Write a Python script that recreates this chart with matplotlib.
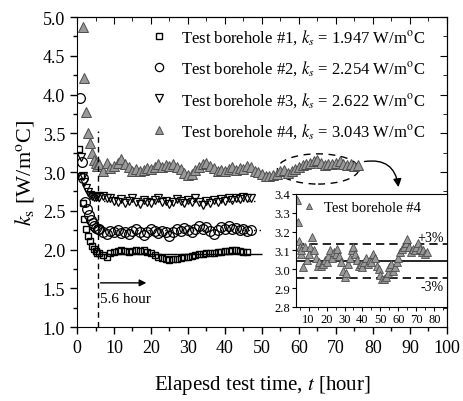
import matplotlib
matplotlib.use('Agg')
import matplotlib.pyplot as plt
from matplotlib.patches import Ellipse
from matplotlib.ticker import MultipleLocator

plt.rcParams['font.family'] = 'Liberation Serif'
plt.rcParams['mathtext.fontset'] = 'stix'

# fitted conductivities of the four boreholes
ks_fit = [1.947, 2.254, 2.622, 3.043]

# borehole #1 (squares)
t1 = [0.5, 1.0, 1.5, 2.0, 2.5, 3.0, 3.5, 4.0, 4.5, 5.0, 5.5,
      6, 7, 8, 9, 10, 11, 12, 13, 14, 15, 16, 17, 18, 19, 20, 21, 22, 23, 24, 25,
      26, 27, 28, 29, 30, 31, 32, 33, 34, 35, 36, 37, 38, 39, 40, 41, 42, 43, 44, 45, 46]
k1 = [3.30, 2.95, 2.60, 2.39, 2.27, 2.18, 2.11, 2.05, 2.01, 1.98, 1.96,
      1.95, 1.93, 1.91, 1.95, 1.97, 1.98, 1.99, 1.98, 1.97, 1.98, 1.99, 1.98, 1.99, 1.97, 1.95,
      1.93, 1.91, 1.89, 1.88, 1.87, 1.88, 1.88, 1.89, 1.90, 1.91, 1.92, 1.93, 1.94, 1.94, 1.95,
      1.95, 1.96, 1.97, 1.97, 1.98, 1.98, 1.99, 1.99, 1.98, 1.97, 1.97]

# borehole #2 (circles)
t2 = [0.8, 1.3, 1.7, 2.2, 2.7, 3.2, 3.7, 4.2, 4.7, 5.2, 5.7,
      6, 7, 8, 9, 10, 11, 12, 13, 14, 15, 16, 17, 18, 19, 20, 21, 22, 23, 24, 25,
      26, 27, 28, 29, 30, 31, 32, 33, 34, 35, 36, 37, 38, 39, 40, 41, 42, 43, 44, 45, 46, 47]
k2 = [3.95, 3.13, 2.92, 2.62, 2.52, 2.44, 2.38, 2.34, 2.31, 2.28, 2.27,
      2.26, 2.22, 2.20, 2.24, 2.22, 2.25, 2.21, 2.23, 2.20, 2.24, 2.26, 2.22, 2.19, 2.23, 2.27,
      2.24, 2.21, 2.24, 2.22, 2.18, 2.22, 2.26, 2.24, 2.28, 2.25, 2.22, 2.27, 2.30, 2.26, 2.29,
      2.24, 2.20, 2.25, 2.29, 2.27, 2.30, 2.26, 2.28, 2.25, 2.27, 2.24, 2.25]

# borehole #3 (down triangles)
t3 = [1.0, 1.5, 2.0, 2.5, 3.0, 3.5, 4.0, 4.5, 5.0, 5.5,
      6, 7, 8, 9, 10, 11, 12, 13, 14, 15, 16, 17, 18, 19, 20, 21, 22, 23, 24, 25,
      26, 27, 28, 29, 30, 31, 32, 33, 34, 35, 36, 37, 38, 39, 40, 41, 42, 43, 44, 45, 46, 47]
k3 = [3.20, 2.95, 2.87, 2.80, 2.74, 2.70, 2.69, 2.68, 2.68, 2.69,
      2.68, 2.69, 2.67, 2.66, 2.63, 2.61, 2.65, 2.60, 2.63, 2.66, 2.62, 2.59, 2.64, 2.62, 2.60,
      2.64, 2.66, 2.61, 2.63, 2.59, 2.62, 2.65, 2.63, 2.60, 2.64, 2.62, 2.66, 2.61, 2.58, 2.63,
      2.60, 2.64, 2.62, 2.65, 2.63, 2.66, 2.64, 2.67, 2.65, 2.68, 2.66, 2.67]

# borehole #4 (filled up triangles), also shown in the inset
t4 = [1.5, 2.0, 2.5, 3.0, 3.5, 4.0, 4.5, 5.0, 5.5,
      6, 7, 8, 9, 10, 11, 12, 13, 14, 15, 16, 17, 18, 19, 20, 21, 22, 23, 24, 25,
      26, 27, 28, 29, 30, 31, 32, 33, 34, 35, 36, 37, 38, 39, 40, 41, 42, 43, 44, 45,
      46, 47, 48, 49, 50, 51, 52, 53, 54, 55, 56, 57, 58, 59, 60, 61, 62, 63, 64, 65,
      66, 67, 68, 69, 70, 71, 72, 73, 74, 75, 76]
k4 = [4.87, 4.22, 3.77, 3.50, 3.37, 3.25, 3.15, 3.12, 3.08,
      3.10, 3.01, 3.12, 3.05, 3.08, 3.12, 3.17, 3.10, 3.06, 3.02, 3.04, 3.02, 3.03, 3.05, 3.04,
      3.07, 3.10, 3.06, 3.09, 3.08, 3.11, 3.07, 3.04, 2.99, 2.96, 2.98, 3.03, 3.06, 3.10, 3.12,
      3.08, 3.05, 3.02, 3.03, 3.01, 3.04, 3.06, 3.03, 3.05, 3.04, 3.08, 3.06, 3.02, 3.00, 2.97,
      2.95, 2.95, 2.96, 2.98, 3.01, 3.03, 2.99, 3.01, 3.04, 3.06, 3.09, 3.11, 3.12, 3.14, 3.16,
      3.12, 3.09, 3.11, 3.10, 3.12, 3.14, 3.11, 3.09, 3.10, 3.08, 3.09]

labels = ['Test borehole #%d, $k_s$ = %.3f W/m$^{\\rm o}$C' % (i + 1, k) for i, k in enumerate(ks_fit)]

fig = plt.figure(figsize=(4.64, 4.02), dpi=100)
ax = fig.add_axes([0.166, 0.184, 0.797, 0.771])

# fitted value lines behind the data
ax.hlines(ks_fit[0], 5.6, 50, colors='k', lw=1.0)
ax.hlines(ks_fit[1], 5.6, 50, colors='k', lw=1.0, linestyles=(0, (1, 3)))
ax.hlines(ks_fit[2], 5.6, 49, colors='k', lw=1.0, linestyles=(0, (1, 3)))

ax.plot(t1, k1, ls='none', marker='s', ms=5, mfc='none', mec='k', mew=1.0, label=labels[0])
ax.plot(t2, k2, ls='none', marker='o', ms=7, mfc='none', mec='k', mew=0.9, label=labels[1])
ax.plot(t3, k3, ls='none', marker='v', ms=6, mfc='none', mec='k', mew=0.9, label=labels[2])
ax.plot(t4, k4, ls='none', marker='^', ms=7, mfc='0.6', mec='0.3', mew=0.7, label=labels[3])

ax.set_xlim(0, 100)
ax.set_ylim(1.0, 5.0)
ax.xaxis.set_major_locator(MultipleLocator(10))
ax.xaxis.set_minor_locator(MultipleLocator(5))
ax.yaxis.set_major_locator(MultipleLocator(0.5))
ax.yaxis.set_minor_locator(MultipleLocator(0.25))
ax.tick_params(which='both', direction='out', labelsize=13, width=1)
ax.tick_params(which='major', length=5)
ax.tick_params(which='minor', length=3)

sx = ax.secondary_xaxis('top')
sx.xaxis.set_major_locator(MultipleLocator(10))
sx.xaxis.set_minor_locator(MultipleLocator(5))
sx.tick_params(which='both', direction='in', labeltop=False)
sx.tick_params(which='major', length=5)
sx.tick_params(which='minor', length=3)
sy = ax.secondary_yaxis('right')
sy.yaxis.set_major_locator(MultipleLocator(0.5))
sy.yaxis.set_minor_locator(MultipleLocator(0.25))
sy.tick_params(which='both', direction='in', labelright=False)
sy.tick_params(which='major', length=5)
sy.tick_params(which='minor', length=3)

ax.set_xlabel('Elapesd test time, $t$ [hour]', fontsize=15, labelpad=12)
ax.set_ylabel('$k_{\\rm s}$ [W/m$^{\\rm o}$C]', fontsize=16, labelpad=5)

leg = ax.legend(loc='upper left', bbox_to_anchor=(0.2, 0.967), frameon=False, fontsize=12,
                handlelength=1.0, handletextpad=0.8, labelspacing=0.75, borderpad=0,
                borderaxespad=0, markerscale=0.85)

# 5.6 hour marker
ax.vlines(5.6, 1.0, 3.53, colors='k', lw=1.0, linestyles=(0, (4, 3)))
ax.annotate('', xy=(19.5, 1.57), xytext=(5.6, 1.57),
            arrowprops=dict(arrowstyle='-|>', color='k', lw=1.0, mutation_scale=10))
ax.text(6.3, 1.37, '5.6 hour', fontsize=11, va='center')

# dashed ellipse and curved arrow to the inset
ax.add_patch(Ellipse((65.2, 3.04), 22, 0.39, fill=False, ec='k', lw=1.0, ls=(0, (5, 4))))
ax.annotate('', xy=(87, 2.77), xytext=(77, 3.13), annotation_clip=False,
            arrowprops=dict(arrowstyle='-|>', connectionstyle='arc3,rad=-0.55',
                            color='k', lw=1.0, mutation_scale=12))

# inset
axi = fig.add_axes([0.638, 0.234, 0.325, 0.281])
axi.axhline(ks_fit[3], color='k', lw=1.2)
axi.axhline(ks_fit[3] * 1.03, color='k', lw=1.2, ls=(0, (5, 3)))
axi.axhline(ks_fit[3] * 0.97, color='k', lw=1.2, ls=(0, (5, 3)))
axi.plot(t4, k4, ls='none', marker='^', ms=5.5, mfc='0.6', mec='0.3', mew=0.6,
         label='Test borehole #4')
axi.text(78, 3.17, '+3%', fontsize=10, ha='center', va='center')
axi.text(79, 2.91, '-3%', fontsize=10, ha='center', va='center')
axi.set_xlim(3, 87)
axi.set_ylim(2.8, 3.4)
axi.xaxis.set_major_locator(MultipleLocator(10))
axi.xaxis.set_minor_locator(MultipleLocator(5))
axi.yaxis.set_major_locator(MultipleLocator(0.1))
axi.tick_params(which='both', direction='out', labelsize=9, pad=1.5)
axi.tick_params(which='major', length=3)
axi.tick_params(which='minor', length=2)
axi.legend(loc='upper left', frameon=False, fontsize=10.5, handlelength=0.8,
           handletextpad=0.6, borderpad=0.3, borderaxespad=0.2, markerscale=0.8)

fig.savefig('out.png', dpi=100)
